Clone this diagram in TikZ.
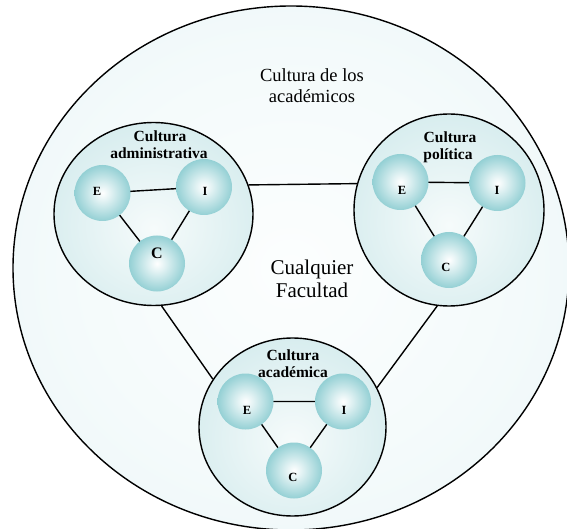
\documentclass[tikz,border=0pt]{standalone}
\usepackage{fontspec}
\setmainfont{Liberation Serif}
\usetikzlibrary{shapes.geometric}
\definecolor{bigin}{RGB}{252,254,254}
\definecolor{bigout}{RGB}{226,242,244}
\definecolor{subin}{RGB}{246,251,251}
\definecolor{subout}{RGB}{192,226,229}
\definecolor{ballout}{RGB}{112,192,198}
\pgfdeclareradialshading{bigsh}{\pgfpoint{0bp}{0bp}}{color(0bp)=(bigin); color(20bp)=(bigin!70!bigout); color(50bp)=(bigout); color(100bp)=(bigout)}
\pgfdeclareradialshading{subsh}{\pgfpoint{0bp}{-4bp}}{color(0bp)=(subin); color(15bp)=(subin!70!subout); color(50bp)=(subout); color(100bp)=(subout)}
\pgfdeclareradialshading{ballsh}{\pgfpoint{0bp}{0bp}}{color(0bp)=(white); color(7bp)=(white!80!ballout); color(26bp)=(white!22!ballout); color(50bp)=(ballout); color(100bp)=(ballout)}
\tikzset{
  bigell/.style={ellipse, draw=black, line width=1.4pt, inner sep=0pt, shading=bigsh},
  subell/.style={ellipse, draw=black, line width=1.4pt, inner sep=0pt, shading=subsh},
  ball/.style={circle, inner sep=0pt, minimum size=56pt, shading=ballsh},
  link/.style={draw=black, line width=1.4pt},
  lbl/.style={font=\bfseries\fontsize{12.5}{12.5}\selectfont, inner sep=0pt},
  ttl/.style={font=\bfseries\fontsize{15.5}{17}\selectfont, inner sep=0pt, anchor=base},
  bigtxt/.style={font=\fontsize{18.5}{21}\selectfont, inner sep=0pt, anchor=base},
  midtxt/.style={font=\fontsize{21}{23}\selectfont, inner sep=0pt, anchor=base},
}
\begin{document}
\begin{tikzpicture}[x=1pt,y=-1pt]
\useasboundingbox (0,0) rectangle (567,529);
% outer ellipse
\node[bigell, minimum width=556pt, minimum height=524pt] (big) at (291,268) {};
\node[bigtxt] (t1) at (312,82) {Cultura de los};
\node[bigtxt] (t2) at (312,103) {académicos};
\node[midtxt] (m1) at (312,274) {Cualquier};
\node[midtxt] (m2) at (312,297) {Facultad};
% sub ellipses
\node[subell, minimum width=199pt, minimum height=183pt] (adm) at (153.5,214) {};
\node[subell, minimum width=190pt, minimum height=192pt] (pol) at (449,210) {};
\node[subell, minimum width=187pt, minimum height=178pt] (aca) at (292.5,427) {};
% connectors between sub ellipses
\draw[link] (adm.17) -- (pol.164.8);
\draw[link] (adm.275) -- (aca.149.4);
\draw[link] (pol.263.5) -- (aca.25.6);
% titles
\node[ttl] (at1) at (160,142) {Cultura};
\node[ttl] (at2) at (159,159) {administrativa};
\node[ttl] (pt1) at (450,143) {Cultura};
\node[ttl] (pt2) at (448,160) {política};
\node[ttl] (ct1) at (293,360) {Cultura};
\node[ttl] (ct2) at (293,377) {académica};
% ball centres
\coordinate (aEc) at (102.5,193);
\coordinate (aIc) at (204,187);
\coordinate (aCc) at (157,263.5);
\coordinate (pEc) at (400.5,182);
\coordinate (pIc) at (497.5,183);
\coordinate (pCc) at (449,260);
\coordinate (cEc) at (245.5,401.5);
\coordinate (cIc) at (343,401.5);
\coordinate (cCc) at (294,470.5);
% inner links
\draw[link] (aEc) -- (aIc) -- (aCc) -- cycle;
\draw[link] (pEc) -- (pIc) -- (pCc) -- cycle;
\draw[link] (cEc) -- (cIc) -- (cCc) -- cycle;
% balls
\foreach \n in {aE,aI,aC,pE,pI,pC,cE,cI,cC}{
  \node[ball] (\n) at (\n c) {};
}
% labels
\node[lbl] (aEl) at (97,191) {E};
\node[lbl] (aIl) at (205,191) {I};
\node[lbl, font=\bfseries\fontsize{16}{16}\selectfont] (aCl) at (157,253) {C};
\node[lbl] (pEl) at (402,190) {E};
\node[lbl] (pIl) at (497,190) {I};
\node[lbl] (pCl) at (446,267) {C};
\node[lbl] (cEl) at (247,410) {E};
\node[lbl] (cIl) at (344,410) {I};
\node[lbl] (cCl) at (293,477) {C};
\end{tikzpicture}
\end{document}
